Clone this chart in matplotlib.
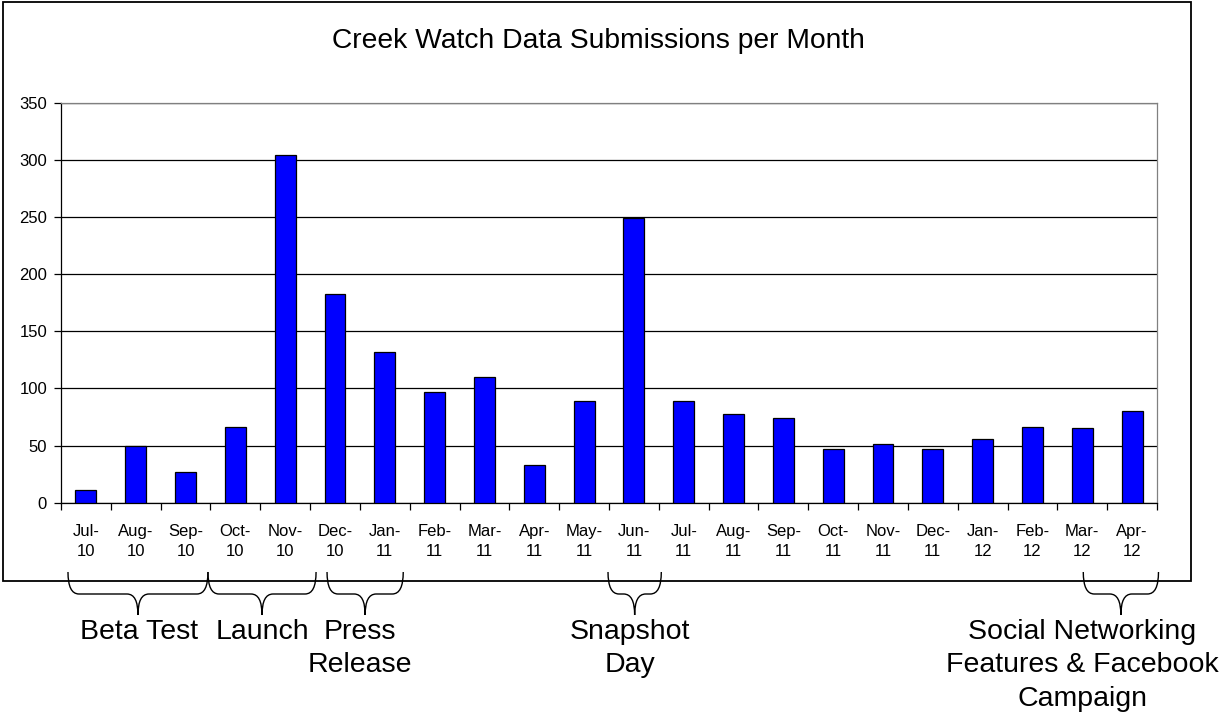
import numpy as np
import matplotlib
matplotlib.use("Agg")
from matplotlib import pyplot as plt
from matplotlib.path import Path
from matplotlib.patches import PathPatch, Rectangle
from matplotlib.transforms import blended_transform_factory

plt.rcParams['font.family'] = ['Liberation Sans', 'DejaVu Sans']

months = ['Jul-\n10', 'Aug-\n10', 'Sep-\n10', 'Oct-\n10', 'Nov-\n10', 'Dec-\n10',
          'Jan-\n11', 'Feb-\n11', 'Mar-\n11', 'Apr-\n11', 'May-\n11', 'Jun-\n11',
          'Jul-\n11', 'Aug-\n11', 'Sep-\n11', 'Oct-\n11', 'Nov-\n11', 'Dec-\n11',
          'Jan-\n12', 'Feb-\n12', 'Mar-\n12', 'Apr-\n12']
submissions = [11, 50, 27, 66, 304, 183, 132, 97, 110, 33, 89, 249,
               89, 78, 74, 47, 51, 47, 56, 66, 65, 80]
y_ticks = [0, 50, 100, 150, 200, 250, 300, 350]
event_labels = ['Beta Test', 'Launch', 'Press\nRelease', 'Snapshot\nDay',
                'Social Networking\nFeatures & Facebook\nCampaign']

W, H = 1220, 715
fig = plt.figure(figsize=(W / 100, H / 100), dpi=100)
ax = fig.add_axes([61 / W, 1 - 502.7 / H, (1157 - 61) / W, 400 / H])

x = np.arange(len(submissions))
ax.bar(x, submissions, width=0.42, color='#0000ff', edgecolor='black', linewidth=0.9, zorder=3)

ax.set_xlim(-0.5, len(submissions) - 0.5)
ax.set_ylim(0, 350)
ax.set_yticks(y_ticks)
ax.yaxis.grid(True, color='black', linewidth=0.9, zorder=0)
ax.tick_params(axis='y', direction='out', length=5, width=0.9, pad=5, labelsize=12)

ax.set_xticks(x)
ax.set_xticklabels(months, fontsize=12, linespacing=1.47)
ax.set_xticks(np.arange(-0.5, len(submissions)), minor=True)
ax.tick_params(axis='x', which='major', length=0, pad=15)
ax.tick_params(axis='x', which='minor', direction='out', length=5, width=0.9)

for side in ['top', 'right']:
    ax.spines[side].set_color('#808080')
for side in ['left', 'bottom']:
    ax.spines[side].set_color('black')
for sp in ax.spines.values():
    sp.set_linewidth(0.9)

fig.text(598 / W, 1 - 41 / H, 'Creek Watch Data Submissions per Month',
         ha='center', va='center', fontsize=20.3)

# outer frame
fig.add_artist(Rectangle((3 / W, 1 - 581 / H), (1191 - 3) / W, (581 - 1.5) / H,
                         transform=fig.transFigure, fill=False,
                         edgecolor='black', linewidth=1.3))

# curly brackets under the axis
trans = blended_transform_factory(ax.transData, fig.transFigure)
spans = [(-0.36, 2.45), (2.45, 4.62), (4.84, 6.37), (10.48, 11.55), (20.02, 21.53)]
y0, y1, y2 = 1 - 572 / H, 1 - 594 / H, 1 - 615 / H
r = 0.22
for xl, xr in spans:
    xm = (xl + xr) / 2
    verts = [(xl, y0), (xl, y1), (xl + r, y1), (xm - r, y1), (xm, y1), (xm, y2),
             (xm, y2), (xm, y1), (xm + r, y1), (xr - r, y1), (xr, y1), (xr, y0)]
    codes = [Path.MOVETO, Path.CURVE3, Path.CURVE3, Path.LINETO, Path.CURVE3, Path.CURVE3,
             Path.MOVETO, Path.CURVE3, Path.CURVE3, Path.LINETO, Path.CURVE3, Path.CURVE3]
    fig.add_artist(PathPatch(Path(verts, codes), transform=trans, fill=False,
                             edgecolor='black', linewidth=1.0, clip_on=False))

label_x = [1.07, 3.54, 5.5, 10.93, 20.0]
for lx, txt in zip(label_x, event_labels):
    fig.text(lx, 1 - 619 / H, txt, transform=trans, ha='center', va='top',
             fontsize=20.5, linespacing=1.37, multialignment='center')

fig.savefig('out.png', dpi=100)
